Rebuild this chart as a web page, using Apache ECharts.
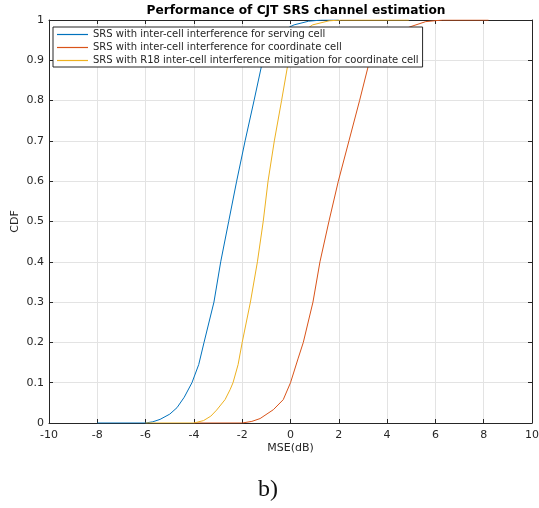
<!DOCTYPE html>
<html lang="en">

<head>
    <meta charset="UTF-8">
    <title>Performance of CJT SRS channel estimation</title>
    <script src="https://cdn.jsdelivr.net/npm/echarts@6/dist/echarts.min.js"></script>
    <style>
        body {
            margin: 0;
            background-color: #fff;
        }
        #main {
            width: 539px;
            height: 508px;
        }
    </style>
</head>

<body>
    <div id="main"></div>
    <script type="text/javascript">
        // (MSE in dB vs CDF)
        var servingMse = [-8, -6, -5.7, -5.4, -5, -4.7, -4.4, -4.08, -3.8, -3.58, -3.17, -2.89, -2.56, -2.23, -1.88, -1.51, -1.15, -0.9, -0.6, -0.3, 0.15, 0.75, 1.3, 2.0];
        var servingCdf = [0, 0, 0.003, 0.009, 0.022, 0.038, 0.064, 0.1, 0.145, 0.2, 0.3, 0.4, 0.5, 0.6, 0.7, 0.8, 0.9, 0.935, 0.96, 0.975, 0.988, 0.997, 1, 1];

        var coordMse = [-4, -2, -1.6, -1.26, -0.71, -0.3, 0, 0.32, 0.53, 0.93, 1.22, 1.59, 1.98, 2.42, 2.86, 3.28, 3.6, 3.9, 4.4, 4.95, 5.6, 6.3, 8.2];
        var coordCdf = [0, 0, 0.004, 0.011, 0.033, 0.058, 0.1, 0.161, 0.2, 0.3, 0.4, 0.5, 0.6, 0.7, 0.8, 0.9, 0.93, 0.95, 0.97, 0.983, 0.996, 1, 1];

        var mitigMse = [-6, -4, -3.6, -3.3, -3.06, -2.71, -2.5, -2.38, -2.17, -2.0, -1.66, -1.37, -1.13, -0.93, -0.67, -0.37, -0.08, 0.12, 0.35, 0.6, 0.92, 1.6, 2.1, 4.9];
        var mitigCdf = [0, 0, 0.006, 0.017, 0.032, 0.058, 0.083, 0.1, 0.145, 0.2, 0.3, 0.4, 0.5, 0.6, 0.7, 0.8, 0.9, 0.93, 0.955, 0.975, 0.988, 0.998, 1, 1];

        var seriesNames = [
            'SRS with inter-cell interference for serving cell',
            'SRS with inter-cell interference for coordinate cell',
            'SRS with R18 inter-cell interference mitigation for coordinate cell'
        ];

        function pairs(xs, ys) {
            return xs.map((x, i) => [x, ys[i]])
        }

        var myChart = echarts.init(document.getElementById('main'));

        var font = 'DejaVu Sans';
        var dark = '#262626';

        function line(name, xs, ys, color) {
            return {
                name: name,
                type: 'line',
                data: pairs(xs, ys),
                showSymbol: false,
                lineStyle: { color: color, width: 1 },
                itemStyle: { color: color },
                z: 3
            }
        }

        var option = {
            animation: false,
            title: {
                text: 'Performance of CJT SRS channel estimation',
                left: 291,
                textAlign: 'center',
                top: 0,
                textStyle: { fontFamily: font, fontSize: 12.2, fontWeight: 'bold', color: '#000' }
            },
            legend: {
                data: seriesNames,
                orient: 'vertical',
                left: 53,
                top: 27,
                padding: [1, 4, 0, 4],
                itemGap: 0,
                itemWidth: 31,
                itemHeight: 1.2,
                icon: 'rect',
                backgroundColor: '#fff',
                borderColor: dark,
                borderWidth: 1,
                borderRadius: 0,
                textStyle: { fontFamily: font, fontSize: 10, color: dark, lineHeight: 13 },
                z: 10
            },
            grid: {
                left: 49,
                right: 7,
                top: 20,
                bottom: 85,
                outerBoundsMode: 'none'
            },
            xAxis: [{
                type: 'value',
                min: -10,
                max: 10,
                interval: 2,
                name: 'MSE(dB)',
                nameLocation: 'middle',
                nameGap: 20,
                nameMoveOverlap: false,
                nameTextStyle: { fontFamily: font, fontSize: 11, color: dark },
                axisLine: { onZero: false, lineStyle: { color: dark } },
                axisTick: { inside: true, length: 4, lineStyle: { color: dark } },
                axisLabel: { fontFamily: font, fontSize: 11, color: dark, margin: 7 },
                splitLine: { show: true, lineStyle: { color: '#e3e3e3' } }
            }, {
                type: 'value',
                position: 'top',
                min: -10,
                max: 10,
                interval: 2,
                axisLine: { onZero: false, lineStyle: { color: dark } },
                axisTick: { inside: true, length: 4, lineStyle: { color: dark } },
                axisLabel: { show: false },
                splitLine: { show: false }
            }],
            yAxis: [{
                type: 'value',
                min: 0,
                max: 1,
                interval: 0.1,
                name: 'CDF',
                nameLocation: 'middle',
                nameGap: 28,
                nameMoveOverlap: false,
                nameRotate: 90,
                nameTextStyle: { fontFamily: font, fontSize: 11, color: dark },
                axisLine: { show: true, onZero: false, lineStyle: { color: dark } },
                axisTick: { show: true, inside: true, length: 4, lineStyle: { color: dark } },
                axisLabel: { fontFamily: font, fontSize: 11, color: dark, margin: 5,
                    formatter: v => String(Math.round(v * 10) / 10) },
                splitLine: { show: true, lineStyle: { color: '#e3e3e3' } }
            }, {
                type: 'value',
                position: 'right',
                min: 0,
                max: 1,
                interval: 0.1,
                axisLine: { show: true, onZero: false, lineStyle: { color: dark } },
                axisTick: { show: true, inside: true, length: 4, lineStyle: { color: dark } },
                axisLabel: { show: false },
                splitLine: { show: false }
            }],
            graphic: [{
                type: 'text',
                left: 258,
                top: 478,
                style: {
                    text: 'b)',
                    fontFamily: 'Liberation Serif',
                    fontSize: 24,
                    fill: '#111'
                }
            }],
            series: [
                line(seriesNames[0], servingMse, servingCdf, '#0072BD'),
                line(seriesNames[1], coordMse, coordCdf, '#D95319'),
                line(seriesNames[2], mitigMse, mitigCdf, '#EDB120')
            ]
        };

        myChart.setOption(option);
    </script>
</body>

</html>
